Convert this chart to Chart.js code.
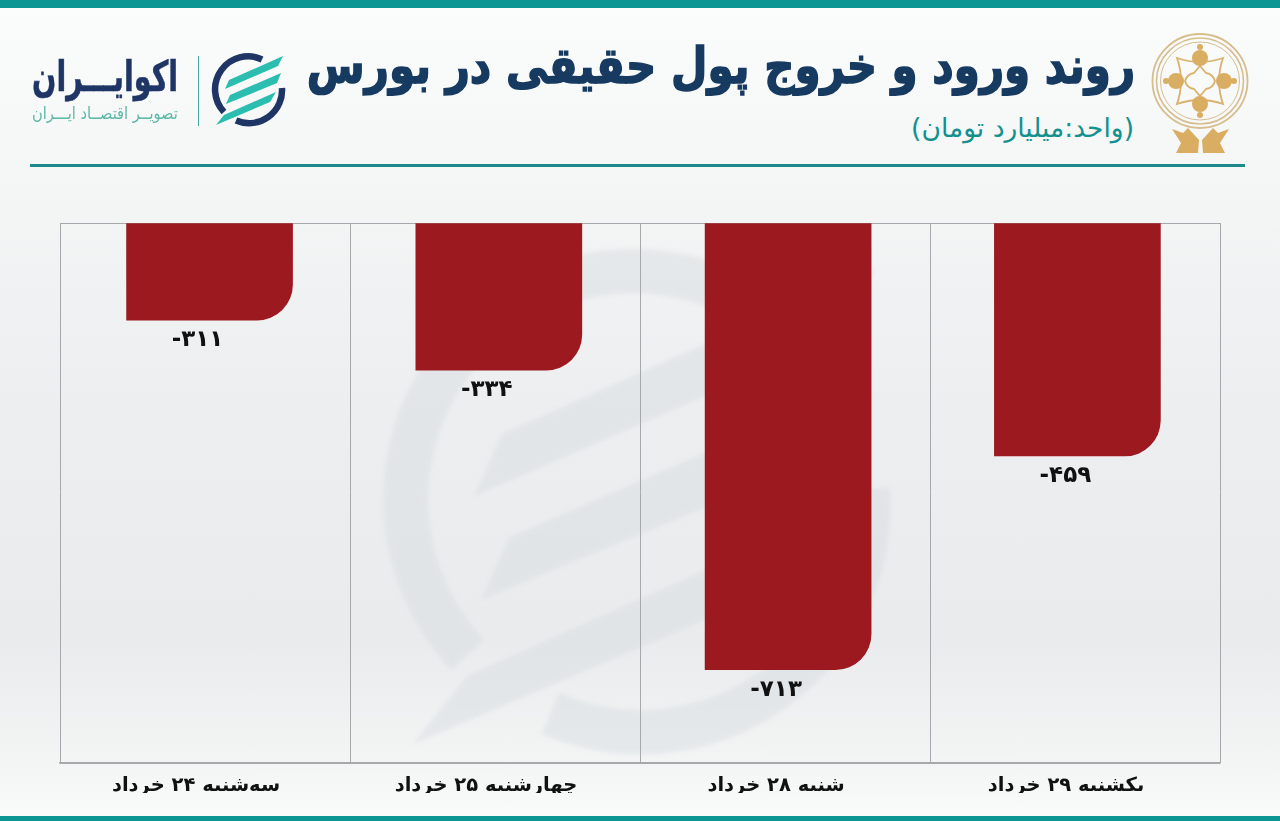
<!DOCTYPE html>
<html lang="fa"><head><meta charset="utf-8">
<script src="https://cdn.jsdelivr.net/npm/chart.js@4"></script>
<style>
html,body{margin:0;padding:0;width:1280px;height:821px;overflow:hidden}
#page{position:relative;width:1280px;height:821px;overflow:hidden;
background:linear-gradient(180deg,#fbfcfc 0%,#f5f6f6 20%,#eceeef 50%,#e9ebec 78%,#f3f5f5 93%,#fafbfb 100%);font-family:"DejaVu Sans",sans-serif}
.bar{position:absolute;left:0;width:1280px;background:#0b9593}
.t{position:absolute;white-space:nowrap;direction:rtl}
svg{position:absolute}
canvas{position:absolute;left:0;top:0}
</style></head><body><div id="page">
<svg width="1280" height="821" style="left:0;top:0;overflow:visible">
 <defs>
  <g id="rings" fill="none" stroke-width="6.5">
   <path d="M262 59.5 A 33 33 0 0 0 224 112"/>
   <path d="M236 120.5 A 33 33 0 0 0 282 88"/>
  </g>
  <g id="stripes">
   <path d="M283 56 L278 66 L225 89 L229 80 Z"/>
   <path d="M281 73 L277 83 L226 104 L230 95 Z"/>
   <path d="M276 92 L270 102 L216 125 L224 115 Z"/>
  </g>
  <filter id="soft"><feGaussianBlur stdDeviation=".3"/></filter>
 </defs>
 <g transform="translate(640 503) scale(6.9) translate(-249 -90)" opacity=".5" filter="url(#soft)">
  <use href="#rings" stroke="#d9dee1"/>
  <use href="#stripes" fill="#d9dee1"/>
 </g>
 <use href="#rings" stroke="#1f3566"/>
 <use href="#stripes" fill="#2abdb0"/>
</svg>
<div class="bar" style="top:0;height:8px"></div>
<div class="bar" style="top:816px;height:5px"></div>
<div style="position:absolute;left:30px;top:164px;width:1215px;height:3px;background:#1d8b8b"></div>

<svg width="110" height="130" style="left:1145px;top:28px" viewBox="1145 28 110 130">
 <g fill="none" stroke="#d6bd8e">
  <ellipse cx="1200" cy="81" rx="47.5" ry="47" stroke-width="1.8"/>
  <ellipse cx="1200" cy="81" rx="43.5" ry="43" stroke-width="1.6"/>
  <ellipse cx="1200" cy="81" rx="39.5" ry="39" stroke-width="1"/>
 </g>
 <g fill="none" stroke="#d9b26c" stroke-width="1.8">
  <path d="M1177 58 Q1200 66 1223 58 Q1215 81 1223 104 Q1200 96 1177 104 Q1185 81 1177 58Z"/>
  <path d="M1200 66 L1206 73 Q1213 74 1215 81 Q1213 88 1206 89 L1200 96 L1194 89 Q1187 88 1185 81 Q1187 74 1194 73Z"/>
 </g>
 <g fill="#d9ad62">
  <circle cx="1200" cy="58" r="8"/><circle cx="1200" cy="104" r="8"/>
  <circle cx="1176" cy="81" r="8"/><circle cx="1224" cy="81" r="8"/>
  <circle cx="1200" cy="47" r="3"/><circle cx="1200" cy="115" r="3"/>
  <circle cx="1166" cy="81" r="3"/><circle cx="1234" cy="81" r="3"/>
  <path d="M1172 129 L1183 133 L1188 128 L1199 140 L1198 153 L1176 153 L1181 143Z"/>
  <path d="M1229 129 L1218 133 L1213 128 L1202 140 L1203 153 L1225 153 L1220 143Z"/>
 </g>
</svg>

<div style="position:absolute;left:198px;top:56px;width:1px;height:70px;background:#4aa7a0"></div>
<div class="t" style="left:32px;top:52px;font-size:42px;font-weight:700;color:#1f3566;transform:scaleX(.68);transform-origin:left;-webkit-text-stroke:.6px #1f3566">اکوایـــران</div>
<div class="t" style="left:32px;top:103px;font-size:17px;color:#5db8a6;transform:scaleX(.86);transform-origin:left">تصویــر اقتصــاد ایـــران</div>

<div class="t" style="right:145px;top:37px;font-size:50px;font-weight:700;color:#173a61;transform:scaleX(.84);transform-origin:right;-webkit-text-stroke:1.6px #173a61">روند ورود و خروج پول حقیقی در بورس</div>
<div class="t" style="right:146px;top:112px;font-size:26.5px;color:#13918e">(واحد:میلیارد تومان)</div>

<canvas id="c" width="1280" height="821"></canvas>
</div>
<script>
const categories = ["سه‌شنبه ۲۴ خرداد","چهارشنبه ۲۵ خرداد","شنبه ۲۸ خرداد","یکشنبه ۲۹ خرداد"];
// figures printed under the bars
const printedValues = ["-۳۱۱","-۳۳۴","-۷۱۳","-۴۵۹"];
// bar lengths as drawn in the picture (the source's bars are not proportional to the printed figures)
const barValues = [-155,-235,-713,-372];
const barIndex = [0,1,2,3];

const valueLabels = {
  id:'valueLabels',
  afterDatasetsDraw(chart){
    const {ctx} = chart, meta = chart.getDatasetMeta(0);
    ctx.save();
    ctx.font = 'bold 23px "DejaVu Sans"';
    ctx.fillStyle = '#111';
    ctx.textAlign = 'center'; ctx.textBaseline = 'middle'; ctx.direction = 'ltr';
    meta.data.forEach((bar,i)=>ctx.fillText(printedValues[i], bar.x-12, bar.y+20));
    ctx.restore();
  }
};

new Chart(document.getElementById('c'),{
  type:'bar',
  data:{datasets:[{
    data:barIndex.map(i=>({x:i,y:barValues[i]})),
    xAxisID:'xb', yAxisID:'y',
    backgroundColor:'#9b191f',
    borderWidth:0,
    barThickness:166,
    borderRadius:{topLeft:0,topRight:0,bottomLeft:0,bottomRight:36},
    borderSkipped:false
  }]},
  options:{
    responsive:false, animation:false, devicePixelRatio:1,
    layout:{padding:{left:60,right:60,top:223,bottom:28}},
    plugins:{legend:{display:false},tooltip:{enabled:false},title:{display:false}},
    scales:{
      x:{type:'category',labels:categories,offset:true,position:'bottom',
         afterFit(s){s.height=30},
         grid:{offset:true,drawTicks:false,color:'#a6a9ab',lineWidth:1},
         border:{display:true,color:'#a6a9ab',width:1.5},
         ticks:{labelOffset:-9,padding:11,maxRotation:0,autoSkip:false,color:'#111',
                font:{family:'"DejaVu Sans"',size:19.5,weight:'bold'}}},
      xb:{type:'linear',display:false,offset:false,min:-0.517,max:3.493},
      y:{min:-862,max:0,
         afterFit(s){s.width=0},
         ticks:{display:false,stepSize:862},
         grid:{drawTicks:false,color:'#a6a9ab',lineWidth:1},
         border:{display:false}}
    }
  },
  plugins:[valueLabels]
});
</script></body></html>
